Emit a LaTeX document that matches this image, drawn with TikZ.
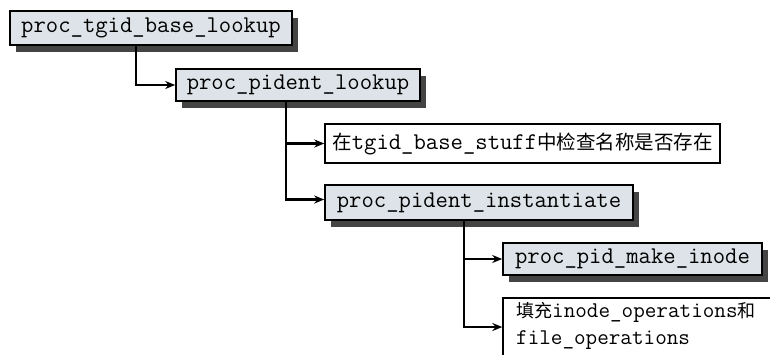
\documentclass[tikz,border=0pt]{standalone}
\usepackage{fontspec}
\newfontfamily\cjk{Noto Sans CJK SC}
\usetikzlibrary{shadows,arrows.meta}
\definecolor{boxfill}{HTML}{DDE3E8}
\definecolor{shadowc}{HTML}{444444}
\tikzset{
  fnbox/.style={draw=black, line width=1.6pt, fill=boxfill, inner sep=0pt,
    font=\ttfamily\fontsize{24}{27}\selectfont,
    drop shadow={shadow xshift=6pt, shadow yshift=-7pt, fill=shadowc, opacity=1}},
  txtbox/.style={draw=black, line width=1.4pt, fill=white, inner sep=0pt,
    font=\ttfamily\fontsize{24}{27}\selectfont},
  arr/.style={line width=2.2pt, -{Stealth[length=10pt,width=8pt]}}
}
\begin{document}
\begin{tikzpicture}[x=1pt,y=-1pt]
\clip (0,0) rectangle (770,354);
\fill[white] (0,0) rectangle (770,354);
\node[fnbox, minimum width=282pt, minimum height=34pt] (b1) at (151,28) {proc\_tgid\_base\_lookup};
\node[fnbox, minimum width=244pt, minimum height=32pt] (b2) at (298,85) {proc\_pident\_lookup};
\node[txtbox, minimum width=395pt, minimum height=39pt] (b3) at (522.5,143.5) {{\cjk\fontsize{19.5}{24}\selectfont 在}tgid\_base\_stuff{\cjk\fontsize{19.5}{24}\selectfont 中检查名称是否存在}};
\node[fnbox, minimum width=308pt, minimum height=35pt] (b4) at (479,202.5) {proc\_pident\_instantiate};
\node[fnbox, minimum width=259pt, minimum height=32pt] (b5) at (632.5,259) {proc\_pid\_make\_inode};
\node[txtbox, minimum width=300pt, minimum height=58pt] (b6) at (653,327) {};
\node[anchor=north west, inner sep=0pt, align=left, font=\ttfamily\fontsize{22.5}{27}\selectfont] (t6) at (516,302)
  {{\cjk\fontsize{18}{27}\selectfont 填充}inode\_operations{\cjk\fontsize{18}{27}\selectfont 和}\\file\_operations};
\draw[arr] ([xshift=127pt]b1.south west) |- (b2.west);
\draw[arr] ([xshift=111pt]b2.south west) |- (b3.west);
\draw[arr] ([xshift=111pt]b2.south west) |- ([yshift=3pt]b4.west);
\draw[arr] ([xshift=140pt]b4.south west) |- (b5.west);
\draw[arr] ([xshift=140pt]b4.south west) |- (b6.west);
\end{tikzpicture}
\end{document}
